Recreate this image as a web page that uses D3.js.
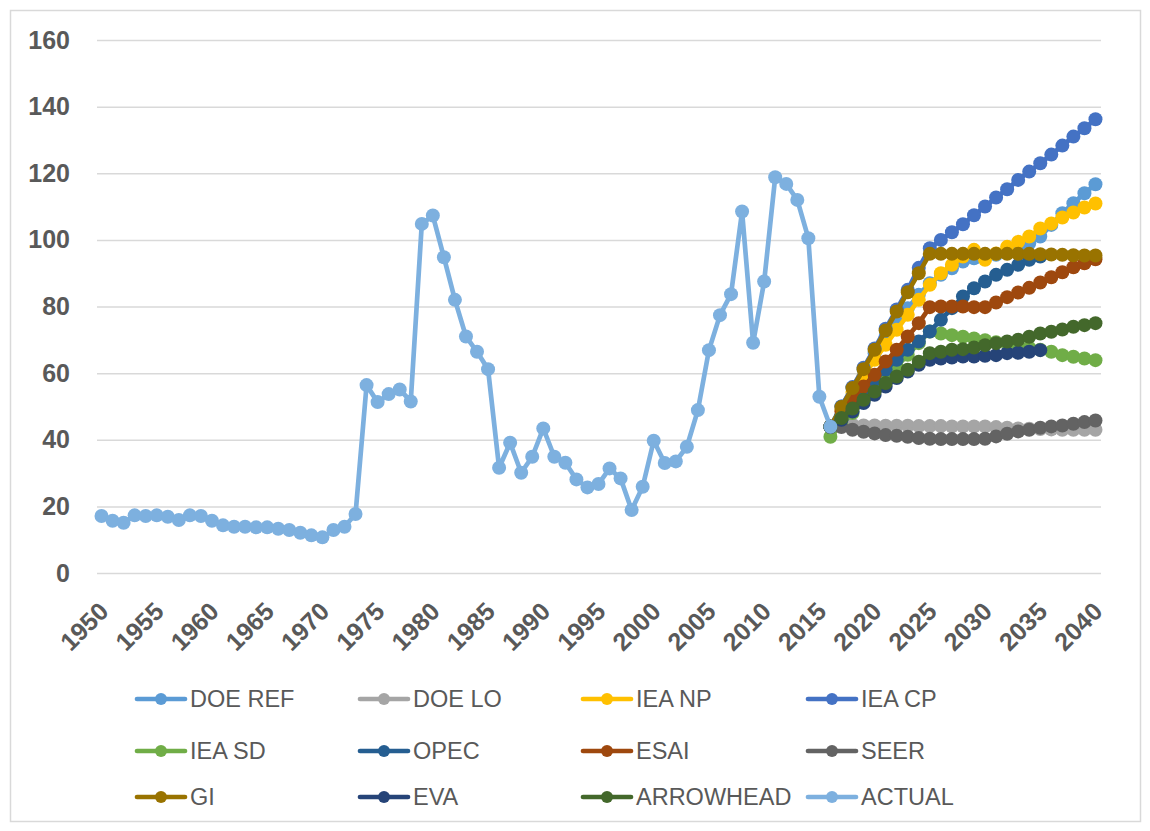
<!DOCTYPE html>
<html>
<head>
<meta charset="utf-8">
<script src="https://cdn.jsdelivr.net/npm/d3@7"></script>
<style>
  html, body { margin: 0; padding: 0; background: #fff; }
  svg { display: block; }
</style>
</head>
<body>
<svg id="chart" width="1150" height="831"></svg>
<script>
// ---------- DATA ----------
const years = d3.range(1950, 2041);
const xTickYears = [1950,1955,1960,1965,1970,1975,1980,1985,1990,1995,2000,2005,2010,2015,2020,2025,2030,2035,2040];
const yTicks = [0,20,40,60,80,100,120,140,160];

const actualStart = 1950;
const actualValues = [
  17.1,15.7,15.1,17.3,17.1,17.3,16.9,15.9,17.3,17.1,
  15.7,14.3,13.9,13.9,13.7,13.7,13.3,12.9,12.1,11.3,
  10.7,12.9,13.9,17.7,56.4,51.3,53.7,55.1,51.5,104.8,
  107.3,94.8,82.0,71.0,66.4,61.2,31.6,39.1,30.1,34.9,
  43.4,34.9,33.1,28.1,25.7,26.7,31.4,28.4,18.9,25.9,
  39.7,33.0,33.5,37.9,48.9,66.9,77.4,83.7,108.5,69.1,
  87.5,118.8,116.8,112.0,100.5,52.9,43.9
];

// forecasts, first value = 2016
const forecastStart = 2016;
const doeRef    = [43.9,50,55.5,61,66,71,75.5,79.5,83.5,87,89.5,91.5,93.5,94.5,95,95.5,96.5,97.5,99,101,104.5,108,111,114,116.7];
const doeLo     = [43.9,44.5,44.5,44.3,44.3,44.2,44.2,44.2,44.1,44.1,44.1,44,44,44,44,43.8,43.6,43.4,43.3,43.2,43.1,43,43,43,43];
const ieaNp     = [43.9,49,54,59,64,68.5,73,77.5,82,86.5,90,92.5,95,97,94,95.9,97.9,99.4,101,103.4,104.9,106.7,108.2,109.7,110.9];
const ieaCp     = [43.9,50,55.8,61.6,67.4,73.3,79.1,85,91.6,97.5,100,102.3,104.7,107.4,110,112.7,115.2,118,120.5,123,125.6,128.3,131,133.5,136.2];
const ieaSd     = [40.9,44.5,48,51.5,55,58.5,62,65.5,69,72.5,71.9,71.4,70.9,70.4,69.9,69.3,68.8,68.2,67.6,67,66.4,65.4,64.9,64.4,63.9];
const opec      = [43.9,47.5,51,54.5,58,61,64,67,69.5,72.5,76,79.5,83,85.5,87.5,89.5,91,92.5,94,95];
const esai      = [43.9,48.5,52.5,56,59.5,63.5,67,71,75,79.8,80,80,80,79.8,79.8,81.2,82.8,84.2,85.6,87.2,88.8,90.3,91.8,93,94.2];
const seer      = [43.9,43.8,43,42.4,41.9,41.4,41.2,40.9,40.5,40.3,40.2,40.2,40.2,40.2,40.3,41,41.8,42.5,43,43.6,44,44.3,44.8,45.3,45.8];
const gi        = [43.9,49.8,55.5,61.2,67,72.8,78.5,84.3,90,95.8,95.8,95.8,95.8,95.8,95.8,95.8,95.8,95.8,95.8,95.7,95.6,95.5,95.4,95.3,95.3];
const eva       = [43.9,46,48.5,51,53.5,56,58.5,60.5,62.5,64,64.4,64.7,65,65,65.2,65.4,66,66.1,66.4,66.9];
const arrowhead = [43.9,46.5,49.4,52,54.5,57,59,61,63.4,66,66.4,67,67.2,67.7,68.4,69,69.5,70,70.9,71.9,72.4,73.1,73.9,74.4,75];

const seriesNames  = ["DOE REF","DOE LO","IEA NP","IEA CP","IEA SD","OPEC","ESAI","SEER","GI","EVA","ARROWHEAD","ACTUAL"];
const seriesColors = ["#5B9BD5","#A5A5A5","#FFC000","#4472C4","#70AD47","#255E91","#9E480E","#636363","#997300","#264478","#43682B","#7DB0DF"];
const seriesValues = [doeRef, doeLo, ieaNp, ieaCp, ieaSd, opec, esai, seer, gi, eva, arrowhead, actualValues];
const seriesStarts = [forecastStart,forecastStart,forecastStart,forecastStart,forecastStart,forecastStart,forecastStart,forecastStart,forecastStart,forecastStart,forecastStart,actualStart];

// ---------- CHART ----------
const svg = d3.select("#chart");
const W = 1150, H = 831;
const plotLeft = 96, plotRight = 1101, plotTop = 40, plotBottom = 573;
const textColor = "#595959";
const fontFam = "'Liberation Sans', Arial, sans-serif";

svg.append("rect").attr("x",10.5).attr("y",10.5).attr("width",W-20).attr("height",H-20)
  .attr("fill","#fff").attr("stroke","#D9D9D9").attr("stroke-width",1.5);

const x = d3.scalePoint().domain(years).range([plotLeft, plotRight]).padding(0.5);
const y = d3.scaleLinear().domain([0,160]).range([plotBottom, plotTop]);

// y axis + gridlines
const yAxis = svg.append("g").attr("transform", `translate(${plotLeft+1},0)`)
  .call(d3.axisLeft(y).tickValues(yTicks).tickSize(-(plotRight-plotLeft-1)).tickPadding(27));
yAxis.select(".domain").remove();
yAxis.selectAll(".tick line").attr("stroke","#D9D9D9").attr("stroke-width",1.5);
yAxis.selectAll(".tick text").attr("fill",textColor).attr("font-family",fontFam)
  .attr("font-size",25).attr("font-weight","bold");

// x axis labels
const xAxis = svg.append("g").attr("transform", `translate(0,${plotBottom})`)
  .call(d3.axisBottom(x).tickValues(xTickYears).tickSize(0));
xAxis.select(".domain").remove();
xAxis.selectAll(".tick text")
  .attr("x",0).attr("y",0).attr("dy",0)
  .attr("text-anchor","end")
  .attr("transform","translate(8,40) rotate(-45)")
  .attr("fill",textColor).attr("font-family",fontFam)
  .attr("font-size",25).attr("font-weight","bold");

// series
const line = d3.line().defined(d => d.v != null).x(d => x(d.yr)).y(d => y(d.v));
seriesNames.forEach((name, i) => {
  const pts = seriesValues[i].map((v, k) => ({yr: seriesStarts[i] + k, v}));
  const g = svg.append("g").attr("class","series");
  g.append("path").datum(pts).attr("d", line)
    .attr("fill","none").attr("stroke", seriesColors[i]).attr("stroke-width",4.7)
    .attr("stroke-linejoin","round").attr("stroke-linecap","round");
  g.selectAll("circle").data(pts).join("circle")
    .attr("cx", d => x(d.yr)).attr("cy", d => y(d.v)).attr("r", 7)
    .attr("fill", seriesColors[i]);
});

// legend
const legX = [137, 360, 583, 808];
const legY = [699, 751, 797];
seriesNames.forEach((name, i) => {
  const col = i % 4, row = Math.floor(i / 4);
  const g = svg.append("g").attr("transform", `translate(${legX[col]},${legY[row]})`);
  g.append("line").attr("x1",0).attr("x2",48).attr("y1",0).attr("y2",0)
    .attr("stroke", seriesColors[i]).attr("stroke-width",4.7).attr("stroke-linecap","round");
  g.append("circle").attr("cx",24).attr("cy",0).attr("r",6).attr("fill",seriesColors[i]);
  g.append("text").attr("x",53).attr("y",0).attr("dy","0.36em")
    .attr("fill",textColor).attr("font-family",fontFam).attr("font-size",23.5)
    .text(name);
});
</script>
</body>
</html>
